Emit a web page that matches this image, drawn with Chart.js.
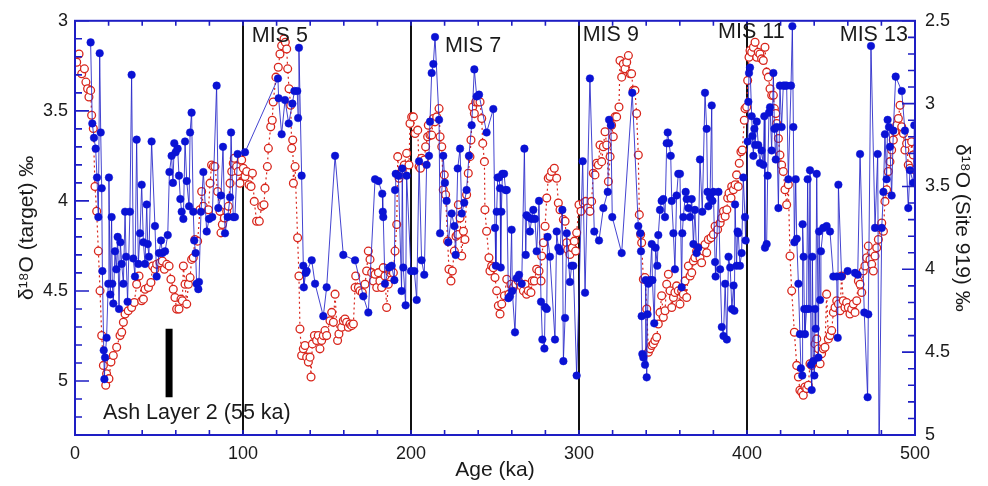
<!DOCTYPE html>
<html>
<head>
<meta charset="utf-8">
<script src="https://cdn.jsdelivr.net/npm/chart.js@4.4.0/dist/chart.umd.min.js"></script>
<style>
  html, body { margin: 0; padding: 0; background: #fff; }
  canvas { display: block; }
</style>
</head>
<body>
<canvas id="my-chart" width="988" height="486"></canvas>
<script>
// target record, left axis
var targetAge = [
  9.3, 10.3, 11.3, 12.3, 13.1, 13.9, 14.7, 15.3, 15.9, 16.3, 17.1, 17.5, 17.9, 18.8, 19.8, 20.2, 21.0, 21.8, 22.2, 22.8,
  23.8, 24.6, 25.4, 26.2, 27.0, 27.8, 28.8, 29.8, 30.4, 31.3, 32.7, 33.7, 34.7, 35.7, 36.7, 37.7, 38.7, 39.7, 40.7, 41.7,
  42.7, 43.3, 44.0, 45.6, 47.6, 48.6, 50.0, 51.2, 52.0, 53.6, 55.2, 56.2, 57.5, 58.3, 59.1, 59.9, 61.1, 61.9, 62.7, 63.5,
  64.5, 65.5, 66.5, 67.9, 68.5, 69.4, 70.4, 71.0, 71.8, 72.4, 73.4, 73.8, 75.0, 76.4, 78.4, 79.8, 81.7, 84.3, 85.3, 86.9,
  88.1, 89.3, 90.9, 92.3, 92.9, 94.2, 95.2, 96.8, 101.2, 120.8, 121.2, 123.0, 125.0, 127.2, 129.4, 130.6, 132.3, 132.8, 133.3, 134.9,
  135.9, 136.2, 137.3, 137.9, 140.9, 142.9, 147.8, 149.8, 154.8, 159.7, 166.7, 171.6, 174.6, 178.6, 180.6, 182.9, 183.2, 183.5, 184.5, 186.9,
  188.5, 190.1, 190.5, 190.9, 192.5, 194.4, 194.8, 195.4, 196.8, 197.4, 200.0, 202.0, 203.4, 204.8, 206.3, 207.9, 209.3, 210.7, 211.3, 212.3,
  213.3, 214.3, 216.7, 217.3, 219.2, 220.2, 221.2, 222.2, 224.2, 225.8, 226.6, 227.8, 229.2, 230.2, 231.7, 233.1, 234.5, 236.1, 237.7, 239.1,
  240.5, 245.0, 249.0, 250.0, 250.5, 251.0, 251.6, 252.4, 253.0, 253.4, 253.8, 254.4, 255.4, 256.3, 257.0, 258.0, 258.9, 259.9, 260.3, 261.9,
  262.9, 264.3, 265.9, 267.5, 268.3, 268.8, 269.8, 270.8, 271.8, 272.8, 273.8, 274.8, 276.2, 277.4, 278.2, 279.4, 279.8, 280.8, 281.3, 282.7,
  285.7, 286.7, 287.7, 288.7, 290.1, 290.7, 291.7, 292.7, 294.6, 295.6, 296.6, 298.6, 302.2, 303.6, 306.5, 309.1, 311.9, 314.5, 317.1, 317.9,
  319.0, 319.8, 325.4, 331.7, 335.3, 336.5, 336.9, 337.3, 337.7, 338.3, 339.3, 339.7, 340.3, 340.8, 341.3, 342.3, 343.3, 343.7, 344.8, 345.6,
  346.6, 347.2, 348.2, 349.2, 350.2, 351.2, 352.2, 352.8, 353.6, 354.6, 355.2, 356.2, 357.1, 358.1, 359.1, 360.1, 361.1, 361.5, 362.1, 363.5,
  364.1, 365.1, 366.1, 367.1, 368.1, 369.0, 370.0, 371.0, 372.0, 373.4, 375.0, 376.0, 376.5, 377.0, 378.0, 379.0, 379.4, 380.0, 381.0, 381.3,
  383.0, 384.0, 385.0, 386.0, 387.0, 388.0, 389.0, 390.0, 391.0, 392.0, 392.5, 392.9, 393.8, 394.4, 394.8, 395.8, 396.8, 397.8, 398.8, 399.2,
  400.4, 400.8, 401.2, 401.8, 402.8, 403.2, 403.8, 404.4, 404.8, 405.8, 406.7, 407.7, 408.7, 409.7, 410.3, 410.7, 411.7, 412.3, 413.1, 413.7,
  414.7, 415.7, 416.3, 417.1, 417.7, 418.7, 419.6, 420.6, 421.6, 422.6, 423.6, 424.6, 426.2, 427.0, 427.6, 428.2, 429.0, 429.6, 430.6, 431.5,
  432.1, 432.9, 433.1, 433.7, 434.1, 434.5, 435.5, 436.1, 436.9, 437.5, 438.1, 438.5, 438.9, 439.5, 440.1, 440.5, 440.9, 441.5, 442.5, 442.9,
  443.5, 444.0, 445.4, 447.4, 449.4, 451.4, 453.4, 454.0, 454.4, 456.3, 459.9, 464.3, 465.9, 467.3, 469.8, 471.8, 472.2, 473.8, 476.2, 477.8,
  478.6, 480.2, 481.2, 482.1, 483.1, 483.7, 484.5, 485.1, 486.1, 487.1, 488.5, 492.1, 494.0, 496.0, 497.0, 499.0, 499.6
];
var targetD18O = [
  3.12, 3.57, 3.65, 3.71, 3.87, 4.09, 3.18, 3.62, 3.93, 4.39, 4.83, 4.99, 4.87, 4.76, 4.46, 3.87, 4.52, 4.09, 4.46, 4.57,
  4.28, 4.38, 4.20, 4.60, 4.23, 4.35, 4.46, 4.06, 4.31, 4.56, 4.06, 3.30, 4.32, 4.42, 3.66, 4.35, 4.18, 3.91, 4.23, 4.35,
  4.02, 4.24, 4.31, 3.67, 4.14, 4.42, 4.29, 4.22, 4.29, 4.28, 4.19, 3.84, 3.75, 3.90, 3.68, 3.73, 3.71, 3.86, 3.99, 4.06,
  4.10, 3.67, 3.89, 4.03, 3.62, 3.51, 4.06, 4.22, 4.29, 4.46, 4.49, 4.45, 4.06, 3.84, 4.17, 4.10, 4.09, 3.36, 4.04, 3.97,
  3.70, 4.18, 4.09, 3.98, 3.62, 4.09, 4.09, 3.74, 3.73, 3.32, 3.43, 3.63, 3.44, 3.57, 3.46, 3.39, 3.39, 3.54, 3.15, 3.86,
  4.36, 4.48, 4.40, 4.39, 4.33, 4.46, 4.64, 4.48, 3.75, 4.30, 4.33, 4.53, 4.62, 3.88, 3.89, 3.96, 4.06, 4.09, 4.46, 4.37,
  4.36, 4.44, 3.94, 3.85, 3.86, 4.50, 3.82, 4.37, 4.58, 3.86, 4.39, 4.39, 4.55, 3.78, 4.33, 4.41, 3.80, 3.75, 3.56, 3.29,
  3.24, 3.09, 3.55, 4.18, 3.75, 3.90, 4.00, 4.23, 4.07, 4.14, 4.30, 3.82, 3.71, 4.07, 4.01, 3.94, 3.75, 3.58, 3.27, 3.42,
  3.41, 3.62, 3.49, 4.15, 4.36, 4.06, 3.87, 3.87, 3.93, 4.37, 4.06, 3.85, 3.85, 3.94, 3.94, 4.54, 4.53, 4.16, 4.50, 4.73,
  4.43, 4.41, 4.46, 3.71, 4.30, 4.08, 4.09, 4.17, 4.10, 4.05, 4.10, 4.28, 4.00, 4.56, 4.77, 4.82, 4.59, 4.60, 4.20, 4.31,
  4.77, 4.17, 4.26, 4.28, 4.05, 4.89, 4.65, 4.18, 4.45, 4.36, 4.36, 4.97, 3.78, 4.51, 3.32, 4.17, 4.22, 4.04, 3.95, 3.55,
  3.58, 4.09, 4.29, 3.40, 4.14, 4.18, 4.28, 4.64, 4.85, 4.87, 4.91, 4.44, 4.98, 4.63, 4.46, 4.44, 4.24, 4.44, 4.68, 4.26,
  4.36, 4.19, 4.05, 4.00, 3.99, 4.09, 3.68, 3.62, 3.68, 3.75, 4.00, 4.18, 4.38, 3.97, 3.85, 3.85, 4.48, 4.18, 4.09, 3.95,
  3.99, 4.04, 4.09, 3.99, 4.24, 4.05, 4.29, 4.26, 3.77, 4.06, 3.40, 3.60, 3.95, 4.03, 3.98, 3.47, 4.00, 3.95, 4.34, 4.42,
  3.95, 4.38, 4.70, 4.75, 4.46, 4.77, 4.31, 4.37, 4.60, 4.47, 4.61, 4.02, 4.36, 4.17, 4.18, 4.36, 4.29, 3.87, 4.09, 4.22,
  3.67, 3.45, 3.29, 3.26, 3.53, 3.64, 3.75, 3.60, 3.69, 3.56, 3.69, 3.79, 3.72, 3.80, 3.53, 4.26, 4.24, 3.86, 3.51, 3.48,
  3.72, 3.29, 3.60, 3.77, 3.59, 4.04, 3.36, 3.59, 3.36, 3.36, 3.36, 3.88, 3.36, 3.03, 3.59, 4.23, 3.88, 4.21, 4.46, 4.74,
  4.93, 4.97, 4.13, 4.31, 4.60, 4.74, 4.60, 3.88, 4.60, 3.83, 4.91, 5.05, 4.31, 4.89, 4.97, 4.60, 4.71, 3.85, 4.87, 4.17,
  4.55, 4.28, 4.15, 4.14, 4.17, 4.42, 4.42, 4.76, 3.91, 4.42, 4.39, 4.40, 4.41, 3.74, 4.62, 5.09, 4.63, 3.14, 4.15, 3.74,
  5.45, 4.15, 3.95, 3.63, 3.88, 3.55, 3.59, 3.70, 3.97, 3.61, 3.31, 3.39, 3.61, 4.04, 3.83, 3.90, 3.58
];

// Site 919 record, right axis
var site919Age = [
  1.0, 2.4, 4.0, 5.6, 6.5, 7.5, 8.3, 9.3, 9.9, 10.9, 11.9, 12.9, 13.9, 14.9, 15.9, 16.9, 18.3, 18.8, 20.2, 21.4,
  22.8, 24.8, 26.8, 27.8, 28.8, 29.8, 31.7, 33.7, 35.3, 36.7, 38.1, 39.7, 40.7, 41.7, 43.7, 45.2, 46.2, 47.6, 48.6, 50.6,
  52.0, 53.2, 54.6, 56.0, 57.1, 58.5, 59.5, 60.5, 61.9, 63.1, 63.9, 64.5, 65.5, 66.5, 67.5, 68.5, 69.4, 70.4, 71.4, 73.0,
  74.4, 75.4, 76.4, 79.4, 80.4, 81.3, 82.3, 83.3, 84.9, 86.3, 86.9, 87.7, 88.9, 90.3, 91.3, 92.3, 93.3, 94.2, 94.8, 96.2,
  97.2, 98.2, 99.2, 100.2, 101.2, 102.2, 103.6, 104.8, 105.6, 106.7, 108.1, 109.7, 111.1, 112.5, 113.1, 114.5, 115.1, 116.5, 117.4, 118.0,
  119.6, 121.0, 122.0, 123.0, 124.4, 125.2, 126.0, 126.6, 127.4, 128.4, 129.0, 129.6, 130.0, 131.0, 132.5, 133.3, 133.9, 134.9, 135.9, 136.9,
  137.9, 138.9, 139.9, 140.5, 141.3, 142.5, 143.8, 144.8, 145.8, 146.8, 147.8, 148.8, 149.8, 151.8, 152.8, 153.8, 154.8, 156.3, 157.1, 158.7,
  159.7, 160.7, 161.7, 162.7, 163.7, 164.7, 165.7, 166.7, 167.1, 168.7, 169.6, 171.0, 172.6, 173.6, 174.6, 175.6, 176.6, 177.6, 178.6, 179.6,
  180.6, 181.5, 182.5, 183.5, 184.5, 185.5, 186.5, 187.5, 188.5, 189.5, 190.5, 191.5, 192.1, 192.9, 193.5, 194.8, 196.0, 197.4, 198.8, 199.4,
  200.4, 201.4, 202.4, 204.0, 204.8, 205.6, 206.3, 207.9, 208.7, 209.9, 210.3, 211.3, 212.3, 213.3, 214.3, 215.3, 216.7, 217.3, 218.3, 219.2,
  219.8, 220.6, 221.8, 222.6, 223.8, 224.6, 225.8, 226.8, 227.8, 228.2, 229.2, 230.2, 231.2, 232.1, 233.1, 234.1, 235.1, 235.7, 236.7, 237.7,
  238.5, 239.7, 241.1, 242.1, 242.7, 243.7, 244.0, 245.0, 246.4, 247.0, 248.0, 249.0, 250.0, 251.0, 252.0, 253.0, 254.0, 255.6, 257.0, 258.3,
  259.5, 260.9, 262.3, 263.9, 265.5, 266.9, 267.9, 268.8, 269.8, 271.4, 272.2, 273.4, 274.8, 276.2, 277.4, 277.8, 278.8, 279.8, 280.8, 281.7,
  282.7, 283.7, 285.3, 286.7, 287.7, 288.7, 290.7, 291.7, 292.7, 293.3, 294.6, 296.0, 297.2, 298.0, 298.6, 300.0, 301.2, 302.6, 304.0, 305.2,
  306.5, 307.5, 308.5, 309.5, 310.5, 311.5, 312.5, 313.5, 314.5, 315.5, 316.5, 317.5, 318.5, 319.4, 320.4, 321.4, 322.4, 323.8, 324.4, 325.4,
  326.4, 327.4, 328.4, 329.4, 330.4, 331.3, 332.3, 333.3, 334.3, 335.3, 335.9, 336.7, 337.3, 338.3, 339.3, 340.3, 341.3, 342.3, 343.3, 344.2,
  345.2, 346.2, 347.2, 348.2, 349.2, 350.2, 351.2, 352.2, 353.2, 354.2, 355.2, 356.2, 357.1, 358.1, 359.1, 360.1, 361.1, 362.1, 363.1, 364.1,
  365.1, 366.1, 367.1, 368.1, 369.0, 370.0, 371.0, 372.0, 373.0, 374.0, 375.0, 376.0, 377.0, 378.6, 380.0, 381.0, 382.5, 384.0, 385.0, 386.0,
  387.0, 388.0, 388.5, 389.3, 390.5, 390.9, 391.9, 392.9, 393.8, 394.8, 395.4, 396.4, 397.2, 398.4, 398.8, 399.8, 400.4, 401.2, 401.8, 402.8,
  403.8, 404.8, 405.8, 406.7, 407.7, 408.7, 409.7, 410.7, 411.7, 412.7, 413.7, 414.7, 415.7, 416.3, 417.1, 417.7, 418.7, 419.6, 420.6, 421.6,
  422.6, 423.6, 424.6, 425.6, 426.6, 428.2, 429.6, 430.6, 431.5, 432.5, 433.5, 434.5, 435.5, 436.5, 437.5, 438.5, 439.5, 440.5, 441.5, 442.5,
  443.5, 444.4, 445.4, 446.4, 447.4, 448.4, 449.4, 450.4, 451.4, 452.4, 453.4, 454.4, 455.4, 456.3, 457.3, 458.3, 459.3, 460.3, 461.3, 462.3,
  463.3, 464.3, 465.3, 466.3, 467.3, 468.3, 469.2, 470.2, 471.2, 472.2, 473.2, 474.2, 475.2, 476.2, 477.2, 478.2, 479.2, 480.2, 481.2, 482.1,
  483.1, 484.1, 485.1, 486.1, 487.1, 488.1, 489.1, 490.1, 491.1, 492.1, 493.1, 494.0, 495.0, 496.0, 497.0, 498.0, 499.0, 500.0
];
var site919D18O = [
  2.75, 2.70, 2.82, 2.79, 2.87, 2.91, 2.96, 2.92, 3.07, 3.15, 3.50, 3.65, 3.89, 4.13, 4.40, 4.58, 4.70, 4.63, 4.66, 4.56,
  4.52, 4.47, 4.40, 4.38, 4.32, 4.27, 4.25, 4.23, 4.20, 4.09, 4.04, 4.19, 4.18, 4.12, 4.11, 4.08, 3.98, 4.00, 3.97, 3.96,
  3.95, 4.00, 3.97, 3.98, 4.06, 4.12, 4.17, 4.24, 4.24, 4.18, 4.19, 3.98, 4.09, 4.21, 4.09, 4.05, 3.94, 3.93, 3.82, 3.83,
  3.64, 3.53, 3.62, 3.64, 3.48, 3.37, 3.38, 3.38, 3.53, 3.65, 3.78, 3.73, 3.69, 3.65, 3.62, 3.48, 3.41, 3.36, 3.33, 3.38,
  3.41, 3.48, 3.34, 3.39, 3.44, 3.41, 3.49, 3.50, 3.42, 3.59, 3.71, 3.71, 3.62, 3.61, 3.51, 3.38, 3.27, 3.14, 3.10, 2.99,
  2.84, 2.78, 2.70, 2.65, 2.61, 2.63, 2.67, 2.79, 2.91, 3.01, 3.27, 3.22, 3.48, 3.38, 3.81, 4.04, 4.36, 4.52, 4.48, 4.46,
  4.53, 4.56, 4.53, 4.65, 4.45, 4.40, 4.43, 4.40, 4.48, 4.43, 4.40, 4.37, 4.40, 4.31, 4.26, 4.32, 4.15, 4.43, 4.39, 4.35,
  4.31, 4.30, 4.32, 4.35, 4.33, 4.34, 4.33, 4.11, 4.04, 4.11, 4.13, 4.14, 4.09, 4.01, 3.89, 3.94, 4.02, 4.07, 4.03, 4.11,
  4.02, 4.07, 4.11, 3.99, 4.04, 4.23, 4.09, 4.02, 4.01, 4.02, 3.89, 3.73, 3.32, 3.45, 3.43, 3.40, 3.37, 3.30, 3.37, 3.12,
  3.08, 3.08, 3.18, 3.16, 3.38, 3.39, 3.33, 3.34, 3.26, 3.20, 3.13, 3.19, 3.19, 3.09, 3.11, 3.08, 3.03, 3.20, 3.26, 3.52,
  3.43, 3.55, 3.83, 4.00, 4.07, 4.01, 3.89, 3.80, 3.79, 3.61, 3.69, 3.92, 3.77, 3.82, 3.55, 3.42, 3.32, 3.22, 3.02, 3.06,
  2.99, 2.99, 2.99, 3.09, 3.24, 3.35, 3.64, 3.77, 3.93, 4.01, 3.98, 3.99, 4.05, 4.13, 4.22, 4.27, 4.21, 4.16, 4.06, 4.15,
  4.09, 4.11, 4.09, 4.07, 4.10, 4.13, 4.09, 4.15, 4.13, 4.14, 4.07, 4.07, 4.00, 4.01, 4.07, 3.92, 3.84, 3.74, 3.57, 3.45,
  3.44, 3.41, 3.39, 3.45, 3.60, 3.64, 3.70, 3.71, 3.84, 3.88, 3.91, 3.87, 3.83, 3.89, 3.78, 3.61, 3.65, 3.60, 3.59, 3.63,
  3.65, 3.59, 3.42, 3.43, 3.36, 3.37, 3.25, 3.35, 3.26, 3.17, 3.25, 3.47, 3.32, 3.13, 3.20, 3.08, 3.08, 3.02, 2.74, 2.84,
  2.76, 2.79, 2.75, 2.71, 2.82, 2.82, 2.92, 2.92, 3.06, 3.31, 3.67, 3.79, 3.84, 4.06, 4.05, 4.24, 4.50, 4.48, 4.46, 4.45,
  4.43, 4.41, 4.33, 4.26, 4.16, 4.29, 4.25, 4.09, 4.03, 4.13, 4.23, 4.17, 4.14, 4.10, 4.13, 4.21, 4.13, 4.15, 4.07, 4.17,
  3.98, 4.04, 4.02, 3.95, 3.93, 3.89, 3.87, 3.93, 3.96, 3.89, 3.85, 3.90, 3.82, 3.81, 3.79, 3.74, 3.76, 3.72, 3.69, 3.65,
  3.68, 3.64, 3.57, 3.54, 3.57, 3.50, 3.52, 3.49, 3.43, 3.50, 3.36, 3.29, 3.28, 3.10, 3.03, 3.02, 2.86, 2.72, 2.68, 2.69,
  2.66, 2.63, 2.72, 2.69, 2.70, 2.73, 2.74, 2.66, 2.81, 2.84, 2.91, 2.95, 2.95, 3.03, 3.06, 3.12, 3.21, 3.31, 3.37, 3.41,
  3.52, 3.61, 3.49, 3.92, 4.13, 4.38, 4.58, 4.65, 4.73, 4.74, 4.76, 4.71, 4.72, 4.70, 4.57, 4.58, 4.56, 4.45, 4.42, 4.48,
  4.57, 4.51, 4.48, 4.47, 4.15, 4.42, 4.40, 4.37, 4.26, 4.23, 4.19, 4.21, 4.25, 4.04, 4.19, 4.23, 4.20, 4.23, 4.27, 4.24,
  4.21, 4.26, 4.19, 4.07, 4.09, 4.14, 4.01, 3.98, 3.93, 3.86, 3.94, 3.97, 4.01, 3.92, 3.87, 3.82, 3.75, 3.72, 3.77, 3.59,
  3.52, 3.41, 3.35, 3.28, 3.22, 3.17, 3.13, 3.09, 3.01, 3.14, 3.18, 3.28, 3.24, 3.37, 3.39, 3.23, 3.31, 3.40
];

var misBoundaries = [100, 200, 300, 400];
var misNames = ["MIS 5", "MIS 7", "MIS 9", "MIS 11", "MIS 13"];
var ashLayerAge = 56;
var ashLayerSpan = [4.71, 5.09];
var ageTicks = [0, 100, 200, 300, 400, 500];
var targetTicks = [3, 3.5, 4, 4.5, 5];
var site919Ticks = [2.5, 3, 3.5, 4, 4.5, 5];

var AXIS_BLUE = "#1e1ec4";
var TEXT = "#1a1a1a";
var FONT = '"Liberation Sans", Arial, Helvetica, sans-serif';

// where the text notes sit, in axis units (age, left-axis value)
var misLabelSpots = [[105.2, 3.085], [220.2, 3.14], [302.2, 3.08], [382.8, 3.065], [455.2, 3.08]];
var ashLabelSpot = [16.7, 5.18];

function toPoints(xs, ys) {
  return xs.map((x, i) => ({ x: x, y: ys[i] }));
}

var boundaryDatasets = misBoundaries.map((age) => ({
  data: [{ x: age, y: 3 }, { x: age, y: 5.3 }],
  yAxisID: "y",
  borderColor: "#111",
  borderWidth: 2,
  pointRadius: 0,
}));

var notesPlugin = {
  id: "notes",
  afterDatasetsDraw(chart) {
    const ctx = chart.ctx;
    const area = chart.chartArea;
    const xs = chart.scales.x;
    const ys = chart.scales.y;
    const ys2 = chart.scales.y2;

    ctx.save();
    // frame
    ctx.strokeStyle = AXIS_BLUE;
    ctx.lineWidth = 2;
    ctx.strokeRect(area.left, area.top, area.right - area.left, area.bottom - area.top);

    // inward tick marks
    ctx.lineWidth = 1.6;
    ctx.beginPath();
    for (let a = 0; a <= 500; a += 20) {
      const px = xs.getPixelForValue(a);
      ctx.moveTo(px, area.bottom);
      ctx.lineTo(px, area.bottom - 5);
      ctx.moveTo(px, area.top);
      ctx.lineTo(px, area.top + 5);
    }
    for (let i = 0; i <= 23; i++) {
      const py = ys.getPixelForValue(3 + i / 10);
      ctx.moveTo(area.left, py);
      ctx.lineTo(area.left + (i % 5 === 0 ? 14 : 7), py);
    }
    for (let i = 0; i <= 25; i++) {
      const py = ys2.getPixelForValue(2.5 + i / 10);
      ctx.moveTo(area.right, py);
      ctx.lineTo(area.right - (i % 5 === 0 ? 13 : 7), py);
    }
    ctx.stroke();

    // text notes
    ctx.fillStyle = TEXT;
    ctx.font = "21.5px " + FONT;
    ctx.textAlign = "left";
    ctx.textBaseline = "middle";
    misNames.forEach((name, i) => {
      const spot = misLabelSpots[i];
      ctx.fillText(name, xs.getPixelForValue(spot[0]), ys.getPixelForValue(spot[1]));
    });
    ctx.fillText("Ash Layer 2 (55 ka)", xs.getPixelForValue(ashLabelSpot[0]), ys.getPixelForValue(ashLabelSpot[1]));
    ctx.restore();
  },
};

function plainNumber(value) {
  return String(value);
}

function renderChart() {
  var ctx = document.getElementById("my-chart").getContext("2d");
  var myChart = new Chart(ctx, {
    type: "line",
    data: {
      datasets: [
        {
          label: "target",
          data: toPoints(targetAge, targetD18O),
          yAxisID: "y",
          borderColor: "rgba(35,35,200,0.85)",
          borderWidth: 1,
          pointRadius: 3.8,
          pointBackgroundColor: "#0a12d4",
          pointBorderColor: "#0a12d4",
          pointBorderWidth: 0.5,
          tension: 0,
        },
        {
          label: "Site 919",
          data: toPoints(site919Age, site919D18O),
          yAxisID: "y2",
          borderColor: "#d8261c",
          borderWidth: 1.2,
          borderDash: [2, 3],
          pointRadius: 3.9,
          pointBackgroundColor: "#ffffff",
          pointBorderColor: "#d8261c",
          pointBorderWidth: 1.3,
          tension: 0,
        },
        {
          label: "Ash Layer 2",
          data: [{ x: ashLayerAge, y: ashLayerSpan[0] }, { x: ashLayerAge, y: ashLayerSpan[1] }],
          yAxisID: "y",
          borderColor: "#000",
          borderWidth: 7,
          borderCapStyle: "butt",
          pointRadius: 0,
        },
      ].concat(boundaryDatasets),
    },
    options: {
      responsive: false,
      animation: false,
      events: [],
      layout: { padding: { top: 15, left: 0, right: 0, bottom: 0 } },
      plugins: {
        legend: { display: false },
        tooltip: { enabled: false },
      },
      scales: {
        x: {
          type: "linear",
          position: "bottom",
          min: 0,
          max: 500,
          afterBuildTicks: (s) => { s.ticks = ageTicks.map((v) => ({ value: v })); },
          afterFit: (s) => { s.height = 51; },
          grid: { display: false, drawTicks: false },
          border: { display: false },
          ticks: { color: TEXT, padding: 8, maxRotation: 0, callback: plainNumber, font: { family: FONT, size: 18 } },
          title: {
            display: true,
            text: "Age (ka)",
            color: TEXT,
            font: { family: FONT, size: 21 },
            padding: { top: 0, bottom: 3 },
          },
        },
        y: {
          type: "linear",
          position: "left",
          reverse: true,
          min: 3,
          max: 5.3,
          afterBuildTicks: (s) => { s.ticks = targetTicks.map((v) => ({ value: v })); },
          afterFit: (s) => { s.width = 75; },
          grid: { display: false, drawTicks: false },
          border: { display: false },
          ticks: { color: TEXT, padding: 7, callback: plainNumber, font: { family: FONT, size: 18 } },
          title: {
            display: true,
            text: "δ¹⁸O (target) ‰",
            color: TEXT,
            font: { family: FONT, size: 21 },
            padding: { top: 15, bottom: 0 },
          },
        },
        y2: {
          type: "linear",
          position: "right",
          reverse: true,
          min: 2.5,
          max: 5,
          afterBuildTicks: (s) => { s.ticks = site919Ticks.map((v) => ({ value: v })); },
          afterFit: (s) => { s.width = 73; },
          grid: { display: false, drawTicks: false },
          border: { display: false },
          ticks: { color: TEXT, padding: 10, callback: plainNumber, font: { family: FONT, size: 18 } },
          title: {
            display: true,
            text: "δ¹⁸O (Site 919) ‰",
            color: TEXT,
            font: { family: FONT, size: 21 },
            padding: { top: 14, bottom: 0 },
          },
        },
      },
    },
    plugins: [notesPlugin],
  });
}

renderChart();
</script>
</body>
</html>
